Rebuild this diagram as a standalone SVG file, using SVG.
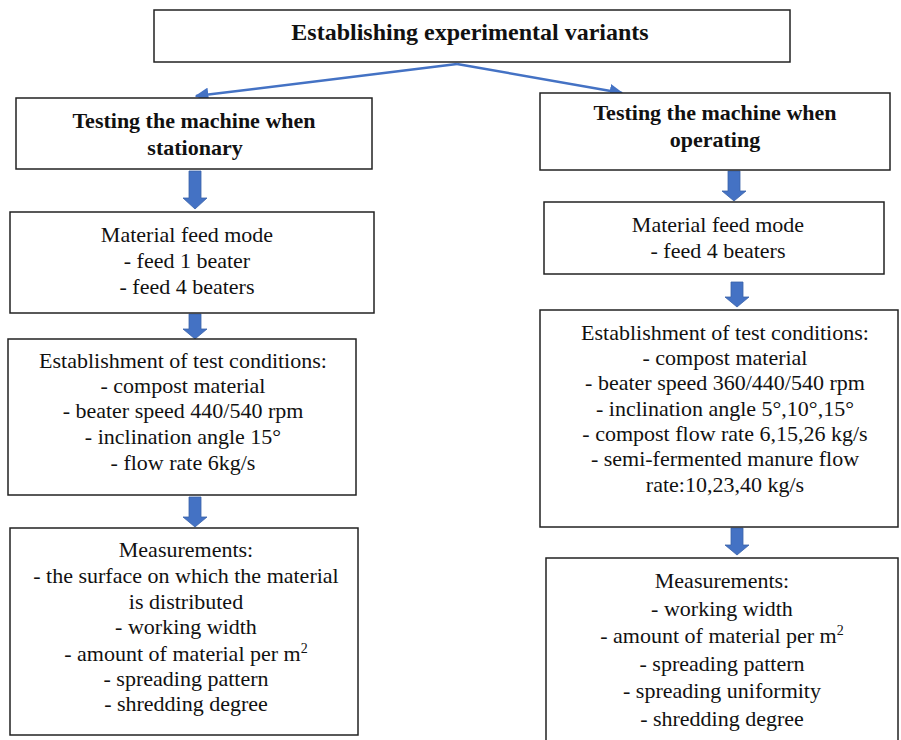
<svg xmlns="http://www.w3.org/2000/svg" width="901" height="740" viewBox="0 0 901 740">
<style>
.box{fill:#fff;stroke:#222;stroke-width:1.5}
text{font-family:'Liberation Serif','Times New Roman',Tinos,'DejaVu Serif',serif;font-size:22px;fill:#111;text-anchor:middle}
.b{font-weight:bold}
.ttl{font-size:24px}
.sup{font-size:14px}
.ln{stroke:#4472C4;stroke-width:2.5;fill:none}
.ba{fill:#4472C4;stroke:#3A62A8;stroke-width:0.8}
</style>
<defs>
<marker id="ah" viewBox="0 0 10 10" refX="9" refY="5" markerWidth="5.5" markerHeight="5.5" orient="auto" markerUnits="strokeWidth">
<path d="M0,0 L10,5 L0,10 z" fill="#4472C4"/>
</marker>
</defs>
<rect width="901" height="740" fill="#fff"/>
<g id="connectors">
<line class="ln" x1="457" y1="64" x2="196" y2="96" marker-end="url(#ah)"/>
<line class="ln" x1="457" y1="64" x2="622" y2="93" marker-end="url(#ah)"/>
<path class="ba" d="M189,171 h12 v27 h6 l-12,11 l-12,-11 h6 z"/>
<path class="ba" d="M189,314 h12 v15 h6 l-12,10 l-12,-10 h6 z"/>
<path class="ba" d="M189,497 h12 v20 h6 l-12,10 l-12,-10 h6 z"/>
<path class="ba" d="M728,171 h12 v20 h6 l-12,10 l-12,-10 h6 z"/>
<path class="ba" d="M731,282 h12 v15 h6 l-12,10 l-12,-10 h6 z"/>
<path class="ba" d="M731,528 h12 v17 h6 l-12,10 l-12,-10 h6 z"/>
</g>
<g id="n-top">
<rect class="box" x="154" y="10" width="636" height="52"/>
<text class="b ttl" x="470" y="40">Establishing experimental variants</text>
</g>
<g id="n-stationary">
<rect class="box" x="16" y="98" width="356" height="71"/>
<text class="b" x="194" y="128">Testing the machine when</text>
<text class="b" x="195" y="155">stationary</text>
</g>
<g id="n-operating">
<rect class="box" x="540" y="93" width="350" height="77"/>
<text class="b" x="715" y="120">Testing the machine when</text>
<text class="b" x="715" y="147">operating</text>
</g>
<g id="n-feed-left">
<rect class="box" x="10" y="212" width="364" height="101"/>
<text x="187" y="242">Material feed mode</text>
<text x="187" y="268">- feed 1 beater</text>
<text x="187" y="294">- feed 4 beaters</text>
</g>
<g id="n-feed-right">
<rect class="box" x="544" y="202" width="340" height="72"/>
<text x="718" y="232">Material feed mode</text>
<text x="718" y="258">- feed 4 beaters</text>
</g>
<g id="n-cond-left">
<rect class="box" x="8" y="339" width="348" height="156"/>
<text x="183" y="368">Establishment of test conditions:</text>
<text x="183" y="393">- compost material</text>
<text x="183" y="418">- beater speed 440/540 rpm</text>
<text x="183" y="444">- inclination angle 15°</text>
<text x="183" y="470">- flow rate 6kg/s</text>
</g>
<g id="n-cond-right">
<rect class="box" x="540" y="310" width="358" height="217"/>
<text x="725" y="340">Establishment of test conditions:</text>
<text x="725" y="365">- compost material</text>
<text x="725" y="390">- beater speed 360/440/540 rpm</text>
<text x="725" y="416">- inclination angle 5°,10°,15°</text>
<text x="725" y="441">- compost flow rate 6,15,26 kg/s</text>
<text x="725" y="466">- semi-fermented manure flow</text>
<text x="725" y="492">rate:10,23,40 kg/s</text>
</g>
<g id="n-meas-left">
<rect class="box" x="10" y="528" width="348" height="207"/>
<text x="186" y="557">Measurements:</text>
<text x="186" y="583">- the surface on which the material</text>
<text x="186" y="609">is distributed</text>
<text x="186" y="634">- working width</text>
<text x="186" y="661">- amount of material per m<tspan class="sup" dy="-8">2</tspan></text>
<text x="186" y="686">- spreading pattern</text>
<text x="186" y="711">- shredding degree</text>
</g>
<g id="n-meas-right">
<rect class="box" x="546" y="558" width="352" height="190"/>
<text x="722" y="588">Measurements:</text>
<text x="722" y="616">- working width</text>
<text x="722" y="643">- amount of material per m<tspan class="sup" dy="-8">2</tspan></text>
<text x="722" y="671">- spreading pattern</text>
<text x="722" y="698">- spreading uniformity</text>
<text x="722" y="726">- shredding degree</text>
</g>
</svg>
